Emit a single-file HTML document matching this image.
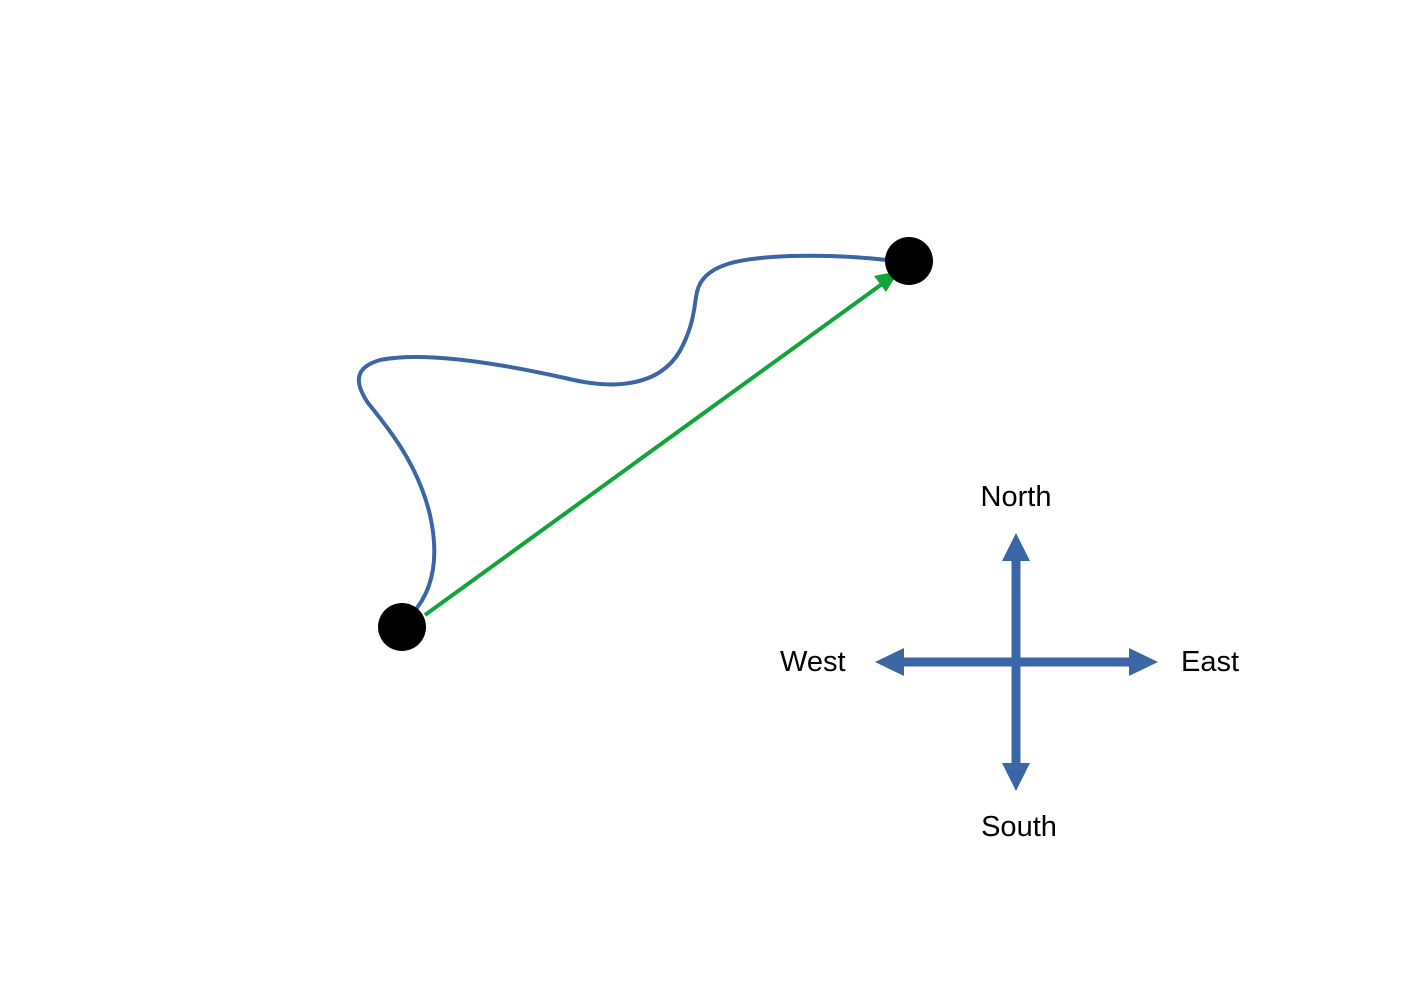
<!DOCTYPE html>
<html><head><style>html,body{margin:0;padding:0;background:#fff;}svg{display:block}</style></head>
<body>
<svg width="1403" height="992" viewBox="0 0 1403 992" xmlns="http://www.w3.org/2000/svg">
<path d="M412,614 C432,592 440,560 430,515 C418,465 390,430 368,403 C356,385 352,368 380,360 C430,350 520,368 565,378 C620,392 665,384 683,345 C695,320 694,305 697,292 C703,264 740,258 790,256 C830,255 860,257 887,260" fill="none" stroke="#3a66a6" stroke-width="4"/>
<line x1="425" y1="615" x2="882" y2="284" stroke="#12a438" stroke-width="4"/>
<polygon points="899,271 874,276 886,292" fill="#12a438"/>
<circle cx="402" cy="627" r="24" fill="#000"/>
<circle cx="909" cy="261" r="24" fill="#000"/>
<g fill="#3a66a6">
<rect x="1011.5" y="558" width="9" height="210"/>
<rect x="900" y="657.5" width="232" height="9"/>
<polygon points="1016,533 1002,561 1030,561"/>
<polygon points="1016,791 1002,763 1030,763"/>
<polygon points="875,662 904,648 904,676"/>
<polygon points="1158,662 1129,648 1129,676"/>
</g>
<g font-family="Liberation Sans, sans-serif" font-size="29" fill="#000">
<text x="1016" y="506" text-anchor="middle">North</text>
<text x="1019" y="836" text-anchor="middle">South</text>
<text x="780" y="671">West</text>
<text x="1181" y="671">East</text>
</g>
</svg>
</body></html>
